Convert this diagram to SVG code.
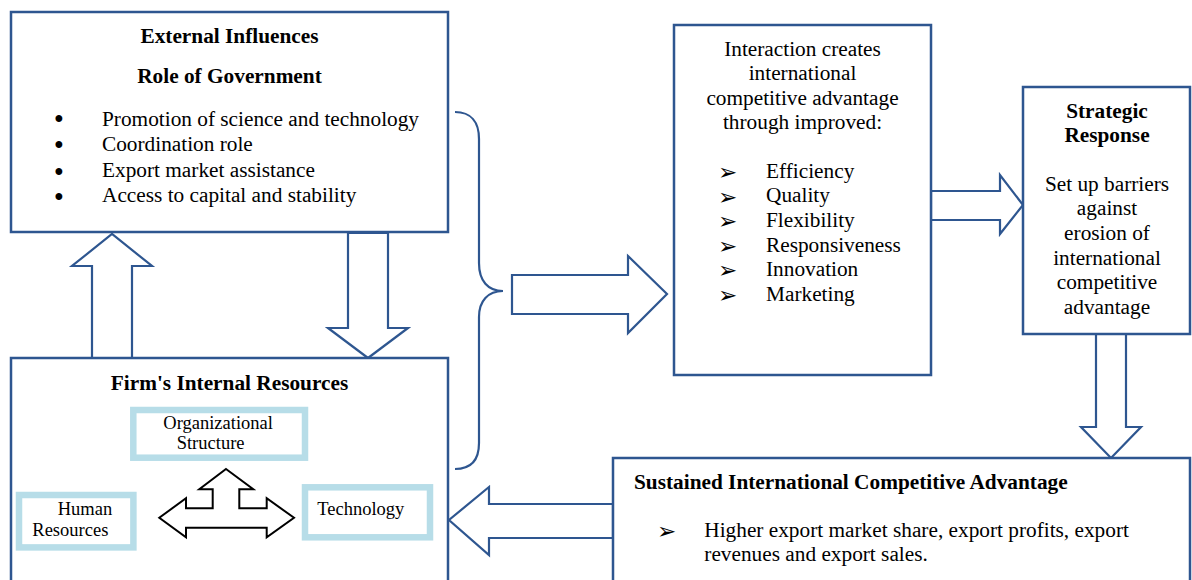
<svg xmlns="http://www.w3.org/2000/svg" width="1192" height="580" viewBox="0 0 1192 580">
  <style>
    .box { fill: #ffffff; stroke: #2E5690; stroke-width: 2.5; }
    .sub { fill: #ffffff; stroke: #B7DDE8; stroke-width: 6.5; }
    .blk { fill: #ffffff; stroke: #2E5690; stroke-width: 2.2; stroke-linejoin: miter; }
    .brace { fill: none; stroke: #2E5690; stroke-width: 2.2; }
    .tri { fill: #ffffff; stroke: #000000; stroke-width: 2; stroke-linejoin: miter; }
    text { font-family: "Liberation Serif", "Times New Roman", serif; fill: #000000; }
    .t { font-size: 21.3px; }
    .h { font-size: 21.3px; font-weight: bold; }
    .s { font-size: 18.5px; }
    .c { text-anchor: middle; }
    .dot { font-family: "Liberation Sans", Arial, sans-serif; font-size: 25px; }
    .arw { font-family: "DejaVu Sans", sans-serif; font-size: 23px; }
  </style>

  <!-- block arrows and brace linking the boxes -->
  <g id="connectors">
    <!-- firm resources up to government -->
    <polygon class="blk" points="92,358 92,266 72,266 112,234 152,266 132,266 132,358"/>
    <!-- government down to firm resources -->
    <polygon class="blk" points="348,233 348,328 328,328 368,358 408,328 388,328 388,233"/>
    <!-- brace grouping both left boxes -->
    <path class="brace" d="M455,112 C471,112 479,122 479,139 L479,263 C479,281 488,291 503,291 C488,291 479,301 479,317 L479,443 C479,460 471,469 455,469"/>
    <!-- brace to interaction box -->
    <polygon class="blk" points="512,275 628,275 628,256 667,294 628,333 628,314 512,314"/>
    <!-- interaction to strategic response -->
    <polygon class="blk" points="931,191 1000,191 1000,175 1023,205 1000,234 1000,220 931,220"/>
    <!-- strategic response down to sustained advantage -->
    <polygon class="blk" points="1096,334 1096,427 1081,427 1111,458 1141,427 1126,427 1126,334"/>
    <!-- sustained advantage back to firm resources -->
    <polygon class="blk" points="613,504 489,504 489,487 449,520 489,555 489,538 613,538"/>
  </g>

  <g id="external-influences">
    <rect class="box" x="11" y="12" width="437" height="220"/>
    <text class="h c" x="229.5" y="43">External Influences</text>
    <text class="h c" x="229.5" y="82.5">Role of Government</text>
    <text class="dot" x="54.5" y="126.5">•</text>
    <text class="dot" x="54.5" y="153">•</text>
    <text class="dot" x="54.5" y="179.5">•</text>
    <text class="dot" x="54.5" y="205">•</text>
    <text class="t" x="102" y="125.5">Promotion of science and technology</text>
    <text class="t" x="102" y="151">Coordination role</text>
    <text class="t" x="102" y="176.5">Export market assistance</text>
    <text class="t" x="102" y="202">Access to capital and stability</text>
  </g>

  <g id="firm-resources">
    <rect class="box" x="11" y="358" width="437" height="240"/>
    <text class="h c" x="229.5" y="390">Firm's Internal Resources</text>
  </g>

  <g id="organizational-structure">
    <rect class="sub" x="133.3" y="410" width="171.7" height="47.7"/>
    <text class="s" x="163.3" y="428.5">Organizational</text>
    <text class="s" x="176.7" y="449">Structure</text>
  </g>

  <g id="human-resources">
    <rect class="sub" x="19" y="495" width="114.4" height="52.4"/>
    <text class="s" x="57.7" y="514.5">Human</text>
    <text class="s" x="32.3" y="536">Resources</text>
  </g>

  <g id="technology">
    <rect class="sub" x="305" y="487.3" width="125" height="50"/>
    <text class="s" x="317.3" y="514.5">Technology</text>
  </g>

  <g id="resource-interaction">
    <polygon class="tri" points="226,469 253.3,489.3 239.3,489.3 239.3,508.3 266.7,508.3 266.7,498.3 294,517.7 266.7,537.3 266.7,527.7 186,527.7 186,537.3 159.3,517.7 186,498.3 186,508.3 212.7,508.3 212.7,489.3 199.3,489.3"/>
  </g>

  <g id="interaction">
    <rect class="box" x="674" y="25" width="257" height="350"/>
    <text class="t c" x="802.5" y="55.5">Interaction creates</text>
    <text class="t c" x="802.5" y="80">international</text>
    <text class="t c" x="802.5" y="104.5">competitive advantage</text>
    <text class="t c" x="802.5" y="129">through improved:</text>
    <text class="arw" x="718" y="180">➢</text>
    <text class="arw" x="718" y="204.5">➢</text>
    <text class="arw" x="718" y="229">➢</text>
    <text class="arw" x="718" y="253.5">➢</text>
    <text class="arw" x="718" y="278">➢</text>
    <text class="arw" x="718" y="302.5">➢</text>
    <text class="t" x="766" y="177.7">Efficiency</text>
    <text class="t" x="766" y="202.3">Quality</text>
    <text class="t" x="766" y="226.9">Flexibility</text>
    <text class="t" x="766" y="251.5">Responsiveness</text>
    <text class="t" x="766" y="276.1">Innovation</text>
    <text class="t" x="766" y="300.7">Marketing</text>
  </g>

  <g id="strategic-response">
    <rect class="box" x="1023" y="87" width="167" height="247"/>
    <text class="h c" x="1107" y="118.3">Strategic</text>
    <text class="h c" x="1107" y="141.7">Response</text>
    <text class="t c" x="1107" y="190.7">Set up barriers</text>
    <text class="t c" x="1107" y="215.3">against</text>
    <text class="t c" x="1107" y="239.9">erosion of</text>
    <text class="t c" x="1107" y="264.5">international</text>
    <text class="t c" x="1107" y="289.1">competitive</text>
    <text class="t c" x="1107" y="313.7">advantage</text>
  </g>

  <g id="sustained-advantage">
    <rect class="box" x="613" y="458" width="577" height="140"/>
    <text class="h" x="634" y="488.5">Sustained International Competitive Advantage</text>
    <text class="arw" x="657" y="539">➢</text>
    <text class="t" x="704.3" y="537">Higher export market share, export profits, export</text>
    <text class="t" x="704.3" y="560.5">revenues and export sales.</text>
  </g>
</svg>
